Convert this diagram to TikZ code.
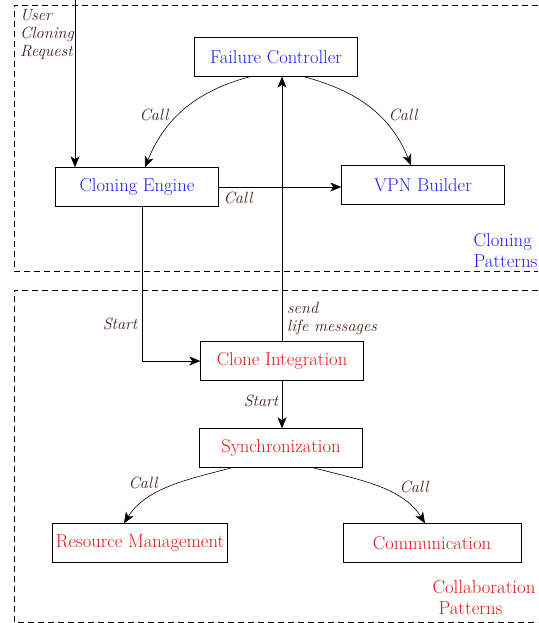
\documentclass[tikz,border=0pt]{standalone}
\usepackage{tikz}
\usetikzlibrary{positioning}
\usetikzlibrary{arrows.meta}

\definecolor{lblbrown}{RGB}{70,30,30}
\definecolor{clonblue}{RGB}{30,30,245}
\definecolor{collred}{RGB}{225,20,20}

\begin{document}
\begin{tikzpicture}[
        x = 1pt, y = 1pt,
        box/.style = {
            draw,
            rectangle,
            minimum width = 163pt,
            minimum height = 39pt,
            inner sep = 2pt,
            font = \fontsize{18.6}{21}\selectfont
        },
        lbl/.style = {
            text = lblbrown,
            font = \fontsize{16.3}{18}\selectfont\itshape,
            inner sep = 1pt
        },
        area/.style = {
            dashed,
            dash pattern = on 6pt off 4pt,
            line width = 0.6pt
        },
        >={Stealth[length=11pt, width=9pt, inset=3pt]}
        ]
        \useasboundingbox (0,0) rectangle (538,623);
%
        \draw[area] (538,618) -- (14,618) -- (14,352) -- (538,352);
        \draw[area] (538,333) -- (14,333) -- (14,1) -- (538,1);
%
        \node[box, text=clonblue] (FC) at (276,566) {Failure Controller};
        \node[box, text=clonblue] (CE) at (137,436) {Cloning Engine};
        \node[box, text=clonblue] (VPN) at (423,438) {VPN Builder};
%
        \node[box, text=collred] (CI) at (282,262) {Clone Integration};
        \node[box, text=collred] (Sync) at (281,175) {Synchronization};
        \node[box, text=collred, minimum width=175pt] (RM) at (140,80) {Resource Management};
        \node[box, text=collred, minimum width=178pt] (Comm) at (432,80) {Communication};
%
        \node[lbl, anchor=north west, align=left] (req) at (19,615) {User\\Cloning\\Request};
        \coordinate (reqin) at (75,623);
%
        \node[anchor=west, align=left, text=clonblue, font=\fontsize{18.8}{21}\selectfont] (cp) at (470,372) {Cloning\\Patterns};
        \node[anchor=west, align=left, text=collred, font=\fontsize{18.8}{21}\selectfont] (colp) at (429,25) {Collaboration\\\hspace*{6pt}Patterns};
%
% cloning part
        \draw[->, line width = 0.6pt] (reqin) -- (reqin |- CE.north);
        \draw[->, line width = 0.6pt] ([xshift=-26pt]FC.south) to [out=195,in=68] ([xshift=8pt]CE.north);
        \draw[->, line width = 0.6pt] ([xshift=28pt]FC.south) to [out=-15,in=112] ([xshift=-12pt]VPN.north);
        \draw[->, line width = 0.6pt] (CE.east) -- (CE.east -| VPN.west);
%
        \node[lbl] at (154,508) {Call};
        \node[lbl] at (403,508) {Call};
        \node[lbl] at (238,425) {Call};
%
% collaboration part
        \draw[->, line width = 0.6pt] ([xshift=-49pt]Sync.south) to [out=195,in=58,looseness=0.9] ([xshift=-16pt]RM.north);
        \draw[->, line width = 0.6pt] ([xshift=32pt]Sync.south) to [out=-15,in=122,looseness=0.9] ([xshift=-7pt]Comm.north);
        \draw[->, line width = 0.6pt] ([xshift=5pt]CE.south) |- (CI.west);
        \draw[->, line width = 0.6pt] (CI.north) -- (CI.north |- FC.south);
        \draw[->, line width = 0.6pt] (CI.south) -- (CI.south |- Sync.north);
%
        \node[lbl] at (120,299) {Start};
        \node[lbl] at (261,222) {Start};
        \node[lbl, anchor=west, align=left] at (286,304) {send\\life messages};
        \node[lbl] at (143,140) {Call};
        \node[lbl] at (414,136) {Call};
\end{tikzpicture}
\end{document}
